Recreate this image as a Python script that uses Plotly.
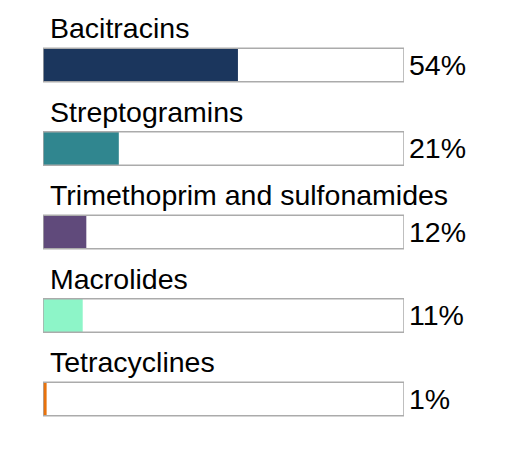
import plotly.graph_objects as go

categories = ["Bacitracins", "Streptogramins", "Trimethoprim and sulfonamides", "Macrolides", "Tetracyclines"]
values = [54, 21, 12, 11, 1]
value_labels = ["54%", "21%", "12%", "11%", "1%"]
colors = ["#1b365d", "#30868f", "#604a7b", "#8df5c8", "#e8720c"]
full_scale = [100] * len(categories)

idx = list(range(len(categories)))
FONT = "Liberation Sans, Arial, sans-serif"

fig = go.Figure()
# white background track
fig.add_trace(go.Bar(y=idx, x=full_scale, orientation="h", width=0.4,
                     marker=dict(color="white", line=dict(width=0)),
                     hoverinfo="skip", showlegend=False))
# coloured value bars
fig.add_trace(go.Bar(y=idx, x=values, orientation="h", width=0.4,
                     marker=dict(color=colors, line=dict(width=0)),
                     showlegend=False))
# grey outline on top
fig.add_trace(go.Bar(y=idx, x=full_scale, orientation="h", width=0.4,
                     marker=dict(color="rgba(0,0,0,0)", line=dict(color="#ababab", width=1.5)),
                     hoverinfo="skip", showlegend=False))

annotations = []
for i, (c, lab) in enumerate(zip(categories, value_labels)):
    annotations.append(dict(x=0, y=i - 0.443, xref="x", yref="y", text=c, showarrow=False,
                            xanchor="left", yanchor="middle", xshift=5,
                            font=dict(family=FONT, size=28.5, color="black")))
    annotations.append(dict(x=100, y=i, xref="x", yref="y", text=lab, showarrow=False,
                            xanchor="left", yanchor="middle", xshift=3,
                            font=dict(family=FONT, size=28.5, color="black")))

fig.update_layout(
    width=511, height=442,
    margin=dict(l=35, r=115, t=0, b=0),
    barmode="overlay",
    plot_bgcolor="white", paper_bgcolor="white",
    xaxis=dict(range=[0, 100], visible=False, fixedrange=True),
    yaxis=dict(range=[4.611, -0.6826], visible=False, fixedrange=True),
    annotations=annotations,
)

fig.write_html("out.html")
